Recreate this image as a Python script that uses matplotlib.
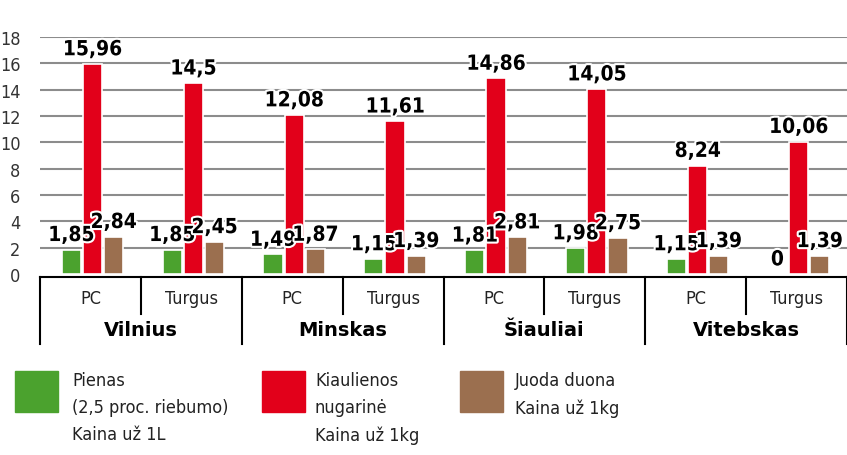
import matplotlib
matplotlib.use("Agg")
import matplotlib.pyplot as plt
import matplotlib.patheffects as pe
from matplotlib import font_manager as fm
from matplotlib.patches import Rectangle
import numpy as np

# data
cities = ["Vilnius", "Minskas", "Šiauliai", "Vitebskas"]
shops = ["PC", "Turgus"]
pienas = [1.85, 1.85, 1.49, 1.15, 1.81, 1.98, 1.15, 0]
kiauliena = [15.96, 14.5, 12.08, 11.61, 14.86, 14.05, 8.24, 10.06]
duona = [2.84, 2.45, 1.87, 1.39, 2.81, 2.75, 1.39, 1.39]
yticks = [0, 2, 4, 6, 8, 10, 12, 14, 16, 18]

legend_txt = ["Pienas\n(2,5 proc. riebumo)\nKaina už 1L",
              "Kiaulienos\nnugarinė\nKaina už 1kg",
              "Juoda duona\nKaina už 1kg"]
colors = ["#4ba22e", "#e2001a", "#9b6f4f"]


def narrow(bold=False):
    # look for any condensed / narrow face that is installed
    want = "bold" if bold else "normal"
    for f in fm.fontManager.ttflist:
        cond = f.stretch in ("condensed", "semi-condensed", "extra-condensed") \
            or "Narrow" in f.name or "Condensed" in f.name
        w = "bold" if f.weight in ("bold", 700, "heavy", 800, 900) else "normal"
        if cond and w == want and f.style == "normal":
            return fm.FontProperties(fname=f.fname)
    return fm.FontProperties(family="DejaVu Sans",
                             weight="bold" if bold else "normal")


thin = narrow()
heavy = narrow(bold=True)
W, H = 847, 456
fig = plt.figure(figsize=(W/100, H/100), dpi=100)
ax = fig.add_axes([40/W, 181/H, 807/W, 237/H])

x = np.arange(len(pienas))
offs = [-0.19, 0.02, 0.23]
bw = 0.19
stroke = [pe.withStroke(linewidth=3, foreground="white")]

for series, off, c in zip([pienas, kiauliena, duona], offs, colors):
    ax.bar(x + off, series, bw, color=c, edgecolor="white", linewidth=1.2,
           zorder=3)
    for xi, v in zip(x + off, series):
        lbl = ("%g" % v).replace(".", ",")
        ax.text(xi, v + 0.35, lbl, ha="center", va="bottom", fontsize=15,
                fontproperties=heavy, color="black", zorder=5,
                path_effects=stroke)

ax.set_xlim(-0.5, len(x) - 0.5)
ax.set_ylim(0, 18)
ax.set_yticks(yticks)
ax.set_yticklabels([str(t) for t in yticks], fontproperties=thin,
                   fontsize=13, color="#333333")
ax.tick_params(axis="y", length=0, pad=14)
ax.tick_params(axis="x", length=0, labelbottom=False)
for t in yticks[1:]:
    ax.axhline(t, color="#8c8c8c", lw=1.5, zorder=1)
for s in ax.spines.values():
    s.set_visible(False)

# category table under the axis
tr = ax.get_xaxis_transform()
top = -3/237
ax.plot([-0.5, len(x) - 0.5], [top, top], color="black", lw=1.5,
        transform=tr, clip_on=False)
for i in range(len(x) + 1):
    xb = i - 0.5
    low = -70/237 if i % 2 == 0 else -40/237
    ax.plot([xb, xb], [top, low], color="black", lw=1.5, transform=tr,
            clip_on=False)
for i in range(len(x)):
    ax.text(i, -24/237, shops[i % 2], transform=tr, ha="center",
            va="center", fontproperties=thin, fontsize=13, color="#222222")
for j, city in enumerate(cities):
    ax.text(2*j + 0.5, -55/237, city, transform=tr, ha="center",
            va="center", fontsize=14, fontweight="bold", color="black")

# legend
for (x0, tx), c, txt in zip([(15, 72), (262, 315), (460, 515)], colors,
                            legend_txt):
    fig.patches.append(Rectangle((x0/W, (H-413)/H), 43/W, 41/H,
                                 transform=fig.transFigure, color=c))
    fig.text(tx/W, (H-372)/H, txt, ha="left", va="top", fontproperties=thin,
             fontsize=13, color="#222222", linespacing=1.65)

fig.savefig("out.png", dpi=100)
